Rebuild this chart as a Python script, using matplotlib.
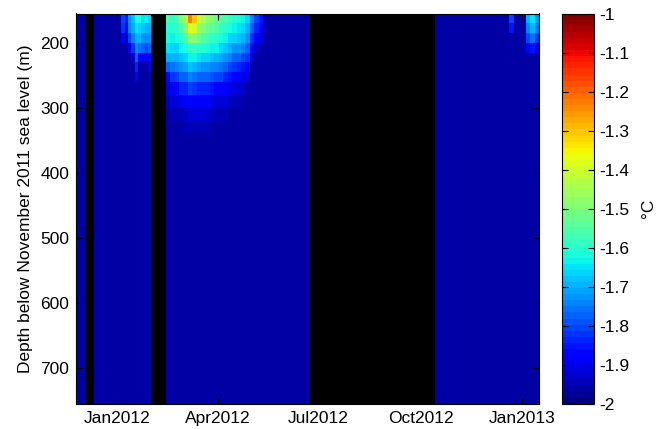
import numpy as np
import matplotlib
matplotlib.use("Agg")
import matplotlib.pyplot as plt
import matplotlib.dates as mdates

plt.rcParams['font.family'] = ['Liberation Sans', 'DejaVu Sans']

BG = -1.96          # background (coldest) water temperature
NA = np.nan         # no data (shown black)

# depth bin edges (m)
depth_edges = [155, 170, 185, 200, 215, 230, 245, 260, 280, 300, 320, 340, 755]

# time bin edges
time_edges = ['2011-11-25', '2011-12-04', '2011-12-11', '2012-01-05', '2012-01-08',
              '2012-01-11', '2012-01-14', '2012-01-17', '2012-01-20', '2012-01-23',
              '2012-01-26', '2012-01-29', '2012-02-01', '2012-02-14', '2012-02-18',
              '2012-02-22', '2012-02-26', '2012-03-01', '2012-03-05', '2012-03-09',
              '2012-03-13', '2012-03-17', '2012-03-21', '2012-03-25', '2012-03-29',
              '2012-04-02', '2012-04-06', '2012-04-10', '2012-04-14', '2012-04-18',
              '2012-04-22', '2012-04-26', '2012-04-30', '2012-05-04', '2012-05-08',
              '2012-05-12', '2012-06-22', '2012-10-14', '2012-12-20', '2012-12-24',
              '2013-01-04', '2013-01-08', '2013-01-12', '2013-01-16']

# temperature profile (top -> bottom) for each time bin; None = no data
temp_columns = [
    [BG]*12,
    None,
    [BG]*12,
    [-1.80, -1.82, -1.88, BG, BG, BG, BG, BG, BG, BG, BG, BG],
    [-1.85, -1.90, BG, BG, BG, BG, BG, BG, BG, BG, BG, BG],
    [-1.72, -1.75, -1.80, -1.90, BG, BG, BG, BG, BG, BG, BG, BG],
    [-1.68, -1.70, -1.75, -1.82, -1.92, BG, BG, BG, BG, BG, BG, BG],
    [-1.62, -1.65, -1.70, -1.72, -1.78, -1.84, -1.90, BG, BG, BG, BG, BG],
    [-1.62, -1.66, -1.70, -1.76, -1.86, BG, BG, BG, BG, BG, BG, BG],
    [-1.65, -1.68, -1.72, -1.78, -1.88, BG, BG, BG, BG, BG, BG, BG],
    [-1.64, -1.70, -1.74, -1.80, -1.90, BG, BG, BG, BG, BG, BG, BG],
    [-1.66, -1.70, -1.72, -1.78, -1.86, -1.92, BG, BG, BG, BG, BG, BG],
    None,
    [-1.55, -1.60, -1.62, -1.65, -1.70, -1.78, -1.86, -1.92, -1.95, BG, BG, BG],
    [-1.58, -1.60, -1.64, -1.66, -1.70, -1.76, -1.82, -1.88, -1.92, -1.95, BG, BG],
    [-1.55, -1.58, -1.62, -1.66, -1.70, -1.75, -1.80, -1.86, -1.91, -1.94, BG, BG],
    [-1.50, -1.55, -1.60, -1.64, -1.68, -1.73, -1.78, -1.84, -1.90, -1.94, BG, BG],
    [-1.45, -1.50, -1.56, -1.62, -1.66, -1.71, -1.77, -1.83, -1.89, -1.93, -1.95, BG],
    [-1.22, -1.35, -1.48, -1.58, -1.63, -1.68, -1.75, -1.81, -1.87, -1.92, -1.95, BG],
    [-1.30, -1.40, -1.50, -1.58, -1.63, -1.69, -1.76, -1.82, -1.88, -1.92, -1.95, BG],
    [-1.42, -1.47, -1.53, -1.60, -1.65, -1.71, -1.77, -1.83, -1.88, -1.92, -1.95, BG],
    [-1.45, -1.50, -1.55, -1.60, -1.66, -1.72, -1.77, -1.83, -1.88, -1.92, -1.95, BG],
    [-1.48, -1.52, -1.57, -1.62, -1.67, -1.73, -1.78, -1.83, -1.89, -1.93, -1.95, BG],
    [-1.50, -1.54, -1.58, -1.63, -1.68, -1.74, -1.79, -1.85, -1.90, -1.93, BG, BG],
    [-1.52, -1.55, -1.60, -1.64, -1.69, -1.75, -1.80, -1.86, -1.91, -1.94, BG, BG],
    [-1.55, -1.58, -1.62, -1.66, -1.71, -1.76, -1.81, -1.87, -1.91, -1.94, BG, BG],
    [-1.56, -1.60, -1.64, -1.68, -1.73, -1.78, -1.83, -1.88, -1.92, -1.95, BG, BG],
    [-1.58, -1.62, -1.66, -1.70, -1.75, -1.80, -1.85, -1.90, -1.93, BG, BG, BG],
    [-1.60, -1.63, -1.67, -1.72, -1.77, -1.82, -1.87, -1.91, -1.94, BG, BG, BG],
    [-1.62, -1.65, -1.68, -1.73, -1.78, -1.83, -1.88, -1.92, -1.95, BG, BG, BG],
    [-1.64, -1.67, -1.70, -1.75, -1.80, -1.85, -1.90, -1.93, BG, BG, BG, BG],
    [-1.66, -1.70, -1.73, -1.77, -1.82, -1.87, -1.92, BG, BG, BG, BG, BG],
    [-1.75, -1.78, -1.82, -1.87, -1.92, BG, BG, BG, BG, BG, BG, BG],
    [-1.80, -1.84, -1.88, -1.93, BG, BG, BG, BG, BG, BG, BG, BG],
    [-1.85, -1.88, -1.92, BG, BG, BG, BG, BG, BG, BG, BG, BG],
    [BG]*12,
    None,
    [BG]*12,
    [-1.80, -1.85, BG, BG, BG, BG, BG, BG, BG, BG, BG, BG],
    [BG]*12,
    [-1.70, -1.74, -1.80, -1.88, BG, BG, BG, BG, BG, BG, BG, BG],
    [-1.65, -1.70, -1.76, -1.85, BG, BG, BG, BG, BG, BG, BG, BG],
    [-1.72, -1.76, -1.82, -1.90, BG, BG, BG, BG, BG, BG, BG, BG],
]

x_tick_dates = ['2012-01-01', '2012-04-01', '2012-07-01', '2012-10-01', '2013-01-01']
x_tick_labels = ['Jan2012', 'Apr2012', 'Jul2012', 'Oct2012', 'Jan2013']
y_ticks = [200, 300, 400, 500, 600, 700]
cbar_ticks = [-2, -1.9, -1.8, -1.7, -1.6, -1.5, -1.4, -1.3, -1.2, -1.1, -1]

# ---- build grid ----
t_edges = mdates.date2num(np.array(time_edges, dtype='datetime64[D]'))
Z = np.array([[np.nan]*12 if c is None else c for c in temp_columns], dtype=float).T
Z = np.ma.masked_invalid(Z)

W, H = 657, 429
FS = 12.5
fig = plt.figure(figsize=(W/100, H/100), dpi=100)
ax = fig.add_axes([76/W, 1-404/H, (539-76)/W, (404-13.5)/H])
ax.set_facecolor('black')

cmap = plt.get_cmap('jet', 64)
mesh = ax.pcolormesh(t_edges, depth_edges, Z, cmap=cmap, vmin=-2, vmax=-1,
                     shading='flat')

ax.set_xlim(t_edges[0], t_edges[-1])
ax.set_ylim(755, 155)
ax.set_yticks(y_ticks)
ax.set_xticks(mdates.date2num(np.array(x_tick_dates, dtype='datetime64[D]')))
ax.set_xticklabels(x_tick_labels)
ax.tick_params(direction='in', top=True, right=True, length=4, width=0.8,
               labelsize=FS, colors='black')
ax.tick_params(axis='x', pad=5)
ax.tick_params(axis='y', pad=5)
ax.set_ylabel('Depth below November 2011 sea level (m)', fontsize=FS, labelpad=5)
for s in ax.spines.values():
    s.set_linewidth(0.8)

cax = fig.add_axes([562/W, 1-404/H, 32/W, (404-13.5)/H])
cb = fig.colorbar(mesh, cax=cax, ticks=cbar_ticks)
cb.ax.set_yticklabels(['%g' % v for v in cbar_ticks])
cb.ax.tick_params(direction='in', left=True, right=True, length=4, labelsize=FS, pad=4)
cb.outline.set_linewidth(0.8)
cb.set_label('°C', fontsize=FS, labelpad=8)

fig.savefig('out.png', dpi=100)
